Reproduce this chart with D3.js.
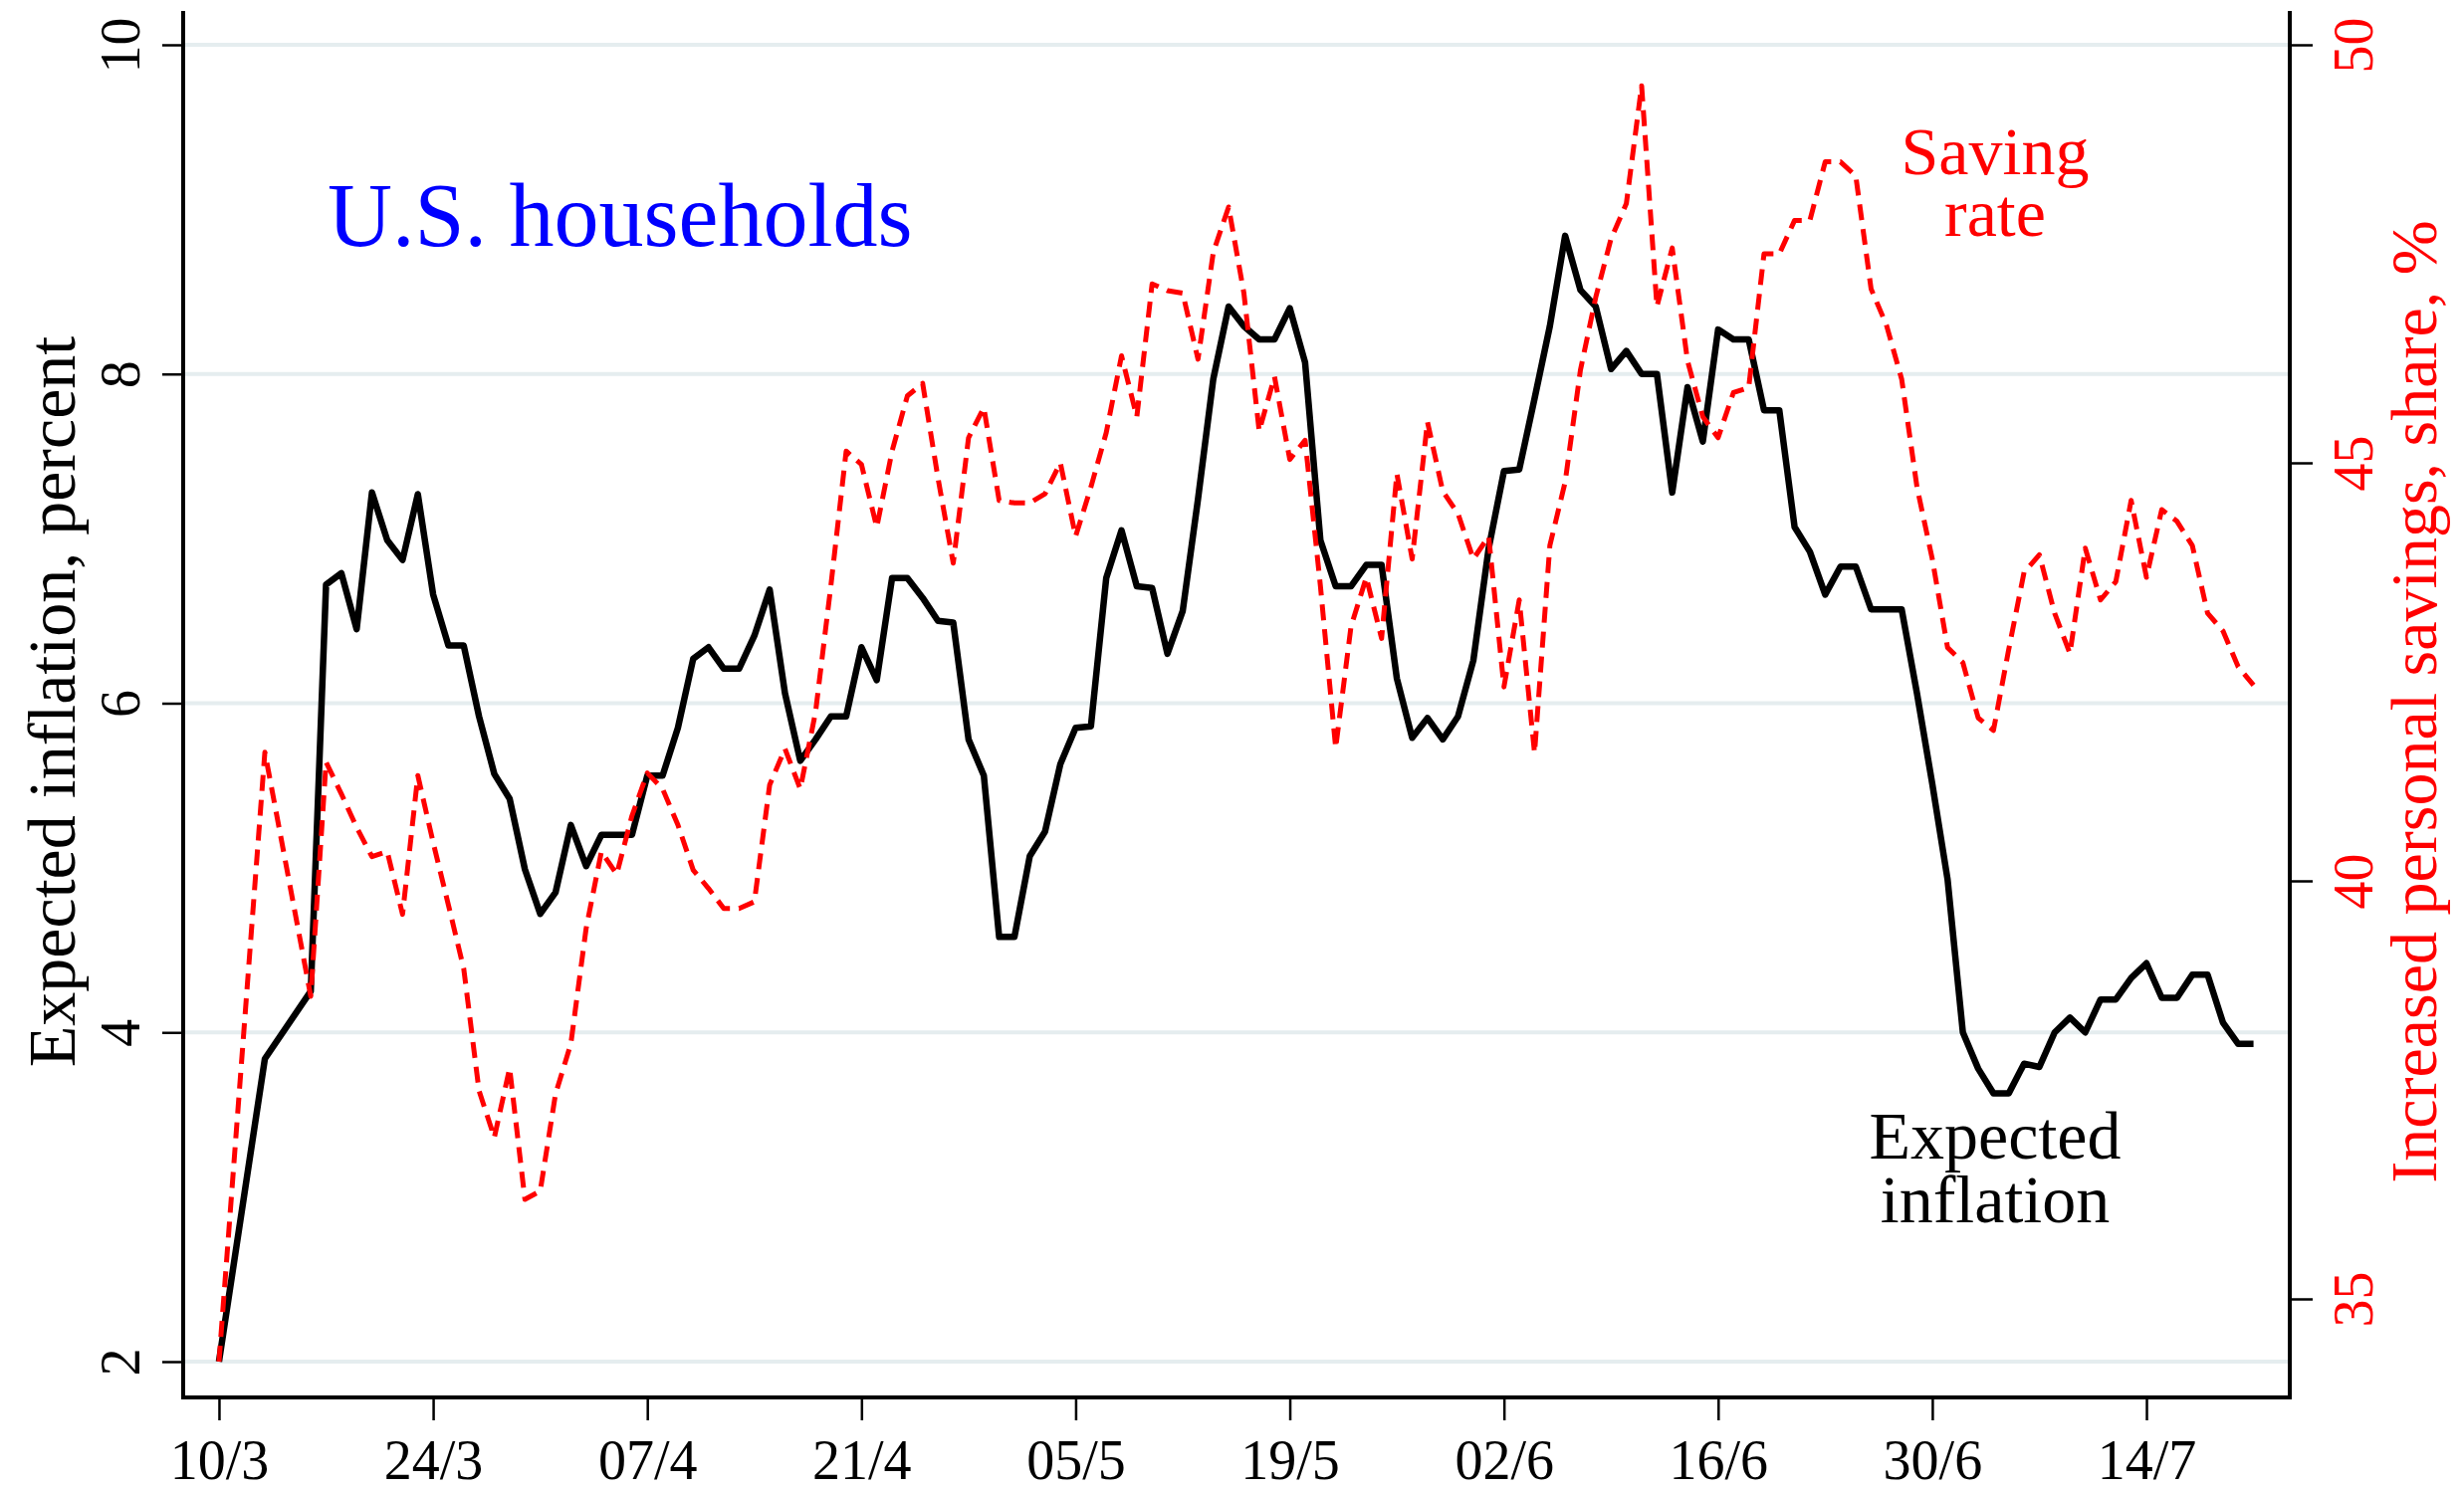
<!DOCTYPE html>
<html>
<head>
<meta charset="utf-8">
<script src="https://cdn.jsdelivr.net/npm/d3@7"></script>
<style>
  body { margin: 0; background: #fff; }
  svg { display: block; font-family: "Liberation Serif", "Times New Roman", serif; }
</style>
</head>
<body>
<svg id="chart"></svg>
<script>
// days since 10 March 2020 (survey waves are sparse at the start)
var days = [0, 3, 6,
  7, 8, 9, 10, 11, 12, 13, 14, 15, 16,
  17, 18, 19, 20, 21, 22, 23, 24, 25, 26,
  27, 28, 29, 30, 31, 32, 33, 34, 35, 36,
  37, 38, 39, 40, 41, 42, 43, 44, 45, 46,
  47, 48, 49, 50, 51, 52, 53, 54, 55, 56,
  57, 58, 59, 60, 61, 62, 63, 64, 65, 66,
  67, 68, 69, 70, 71, 72, 73, 74, 75, 76,
  77, 78, 79, 80, 81, 82, 83, 84, 85, 86,
  87, 88, 89, 90, 91, 92, 93, 94, 95, 96,
  97, 98, 99, 100, 101, 102, 103, 104, 105, 106,
  107, 108, 109, 110, 111, 112, 113, 114, 115, 116,
  117, 118, 119, 120, 121, 122, 123, 124, 125, 126,
  127, 128, 129, 130, 131, 132, 133];

// expected inflation, percent (left axis)
var inflation = [2.0, 3.84, 4.25,
  6.72, 6.79, 6.45, 7.28, 6.99, 6.87, 7.27, 6.66, 6.35, 6.35,
  5.92, 5.57, 5.42, 4.99, 4.72, 4.85, 5.26, 5.01, 5.2, 5.2,
  5.2, 5.56, 5.56, 5.85, 6.27, 6.34, 6.21, 6.21, 6.41, 6.69,
  6.06, 5.65, 5.78, 5.92, 5.92, 6.34, 6.14, 6.76, 6.76, 6.64,
  6.5, 6.49, 5.78, 5.56, 4.58, 4.58, 5.07, 5.22, 5.63, 5.85,
  5.86, 6.76, 7.05, 6.71, 6.7, 6.3, 6.56, 7.24, 7.97, 8.41,
  8.29, 8.21, 8.21, 8.4, 8.07, 6.99, 6.71, 6.71, 6.84, 6.84,
  6.15, 5.79, 5.91, 5.78, 5.92, 6.26, 6.94, 7.41, 7.42, 7.85,
  8.29, 8.84, 8.51, 8.41, 8.03, 8.14, 8.0, 8.0, 7.28, 7.92,
  7.59, 8.27, 8.21, 8.21, 7.78, 7.78, 7.07, 6.92, 6.66, 6.83,
  6.83, 6.57, 6.57, 6.57, 6.06, 5.51, 4.93, 4.0, 3.78, 3.63,
  3.63, 3.81, 3.79, 4.0, 4.09, 4.0, 4.2, 4.2, 4.33, 4.42,
  4.21, 4.21, 4.35, 4.35, 4.06, 3.93, 3.93];

// increased personal savings, share % (right axis)
var saving = [34.25, 41.54, 38.62,
  41.42, 41.04, 40.64, 40.29, 40.35, 39.6, 41.26, 40.46, 39.71, 38.95,
  37.49, 36.93, 37.76, 36.19, 36.29, 37.45, 38.05, 39.43, 40.35, 40.08,
  40.78, 41.29, 41.1, 40.67, 40.13, 39.91, 39.67, 39.67, 39.75, 41.15,
  41.58, 41.1, 42.02, 43.53, 45.14, 44.98, 44.23, 45.14, 45.8, 45.95,
  44.82, 43.8, 45.3, 45.66, 44.55, 44.52, 44.52, 44.63, 45.0, 44.12,
  44.71, 45.36, 46.28, 45.55, 47.14, 47.06, 47.03, 46.24, 47.52, 48.06,
  47.03, 45.38, 46.03, 45.04, 45.27, 43.53, 41.59, 43.04, 43.63, 42.9,
  44.87, 43.85, 45.49, 44.66, 44.39, 43.85, 44.12, 42.32, 43.36, 41.53,
  44.01, 44.77, 46.11, 46.98, 47.68, 48.1, 49.51, 46.87, 47.57, 46.22,
  45.55, 45.3, 45.84, 45.9, 47.5, 47.5, 47.9, 47.9, 48.6, 48.6,
  48.43, 47.08, 46.65, 46.0, 44.71, 43.85, 42.79, 42.61, 41.95, 41.8,
  42.77, 43.69, 43.9, 43.2, 42.72, 43.98, 43.36, 43.58, 44.55, 43.63,
  44.44, 44.3, 44.01, 43.2, 42.99, 42.56, 42.34];

var xTickDays = [0, 14, 28, 42, 56, 70, 84, 98, 112, 126];
var xTickLabels = ["10/3", "24/3", "07/4", "21/4", "05/5", "19/5", "02/6", "16/6", "30/6", "14/7"];
var leftTicks = [2, 4, 6, 8, 10];
var rightTicks = [35, 40, 45, 50];

var svgWidth = 2475, svgHeight = 1498;
var plotLeft = 184, plotRight = 2300, plotTop = 45, plotBottom = 1368, axisY = 1404;
var serif = '"Liberation Serif", "Times New Roman", serif';

var svg = d3.select('#chart')
    .attr('width', svgWidth)
    .attr('height', svgHeight);

svg.append('rect')
    .attr('width', svgWidth)
    .attr('height', svgHeight)
    .attr('fill', '#fff');

var x = d3.scaleLinear()
    .domain([-2.34, 135.37])
    .range([plotLeft, plotRight]);

var yL = d3.scaleLinear()
    .domain([2, 10])
    .range([plotBottom, plotTop]);

var yR = d3.scaleLinear()
    .domain([34.25, 50])
    .range([plotBottom, plotTop]);

// gridlines on the left-axis ticks
svg.append('g')
    .selectAll('line')
    .data(leftTicks)
    .enter()
    .append('line')
    .attr('x1', plotLeft)
    .attr('x2', plotRight)
    .attr('y1', d => yL(d))
    .attr('y2', d => yL(d))
    .attr('stroke', '#e5edef')
    .attr('stroke-width', 4);

// bottom axis
var xAxis = svg.append('g')
    .attr('transform', 'translate(0,' + axisY + ')')
    .call(d3.axisBottom(x)
        .tickValues(xTickDays)
        .tickFormat((d, i) => xTickLabels[i])
        .tickSize(23)
        .tickSizeOuter(0));
xAxis.select('.domain').remove();
xAxis.selectAll('.tick line').attr('stroke', '#000').attr('stroke-width', 2.5);
xAxis.selectAll('.tick text')
    .attr('y', 82)
    .attr('dy', null)
    .attr('fill', '#000')
    .style('font-family', serif)
    .style('font-size', '56px');

// left axis
var yAxisL = svg.append('g')
    .attr('transform', 'translate(' + plotLeft + ',0)')
    .call(d3.axisLeft(yL)
        .tickValues(leftTicks)
        .tickSize(21)
        .tickSizeOuter(0));
yAxisL.select('.domain').remove();
yAxisL.selectAll('.tick line').attr('stroke', '#000').attr('stroke-width', 2.5);
yAxisL.selectAll('.tick text')
    .attr('transform', 'rotate(-90)')
    .attr('x', 0)
    .attr('y', -44)
    .attr('dy', null)
    .attr('text-anchor', 'middle')
    .attr('fill', '#000')
    .style('font-family', serif)
    .style('font-size', '56px');

// right axis
var yAxisR = svg.append('g')
    .attr('transform', 'translate(' + plotRight + ',0)')
    .call(d3.axisRight(yR)
        .tickValues(rightTicks)
        .tickSize(23)
        .tickSizeOuter(0));
yAxisR.select('.domain').remove();
yAxisR.selectAll('.tick line').attr('stroke', '#000').attr('stroke-width', 2.5);
yAxisR.selectAll('.tick text')
    .attr('transform', 'rotate(-90)')
    .attr('x', 0)
    .attr('y', 83)
    .attr('dy', null)
    .attr('text-anchor', 'middle')
    .attr('fill', '#ff0000')
    .style('font-family', serif)
    .style('font-size', '56px');

// frame lines (left, bottom, right)
svg.append('path')
    .attr('d', 'M' + plotLeft + ',11V' + axisY + 'H' + plotRight + 'V11')
    .attr('fill', 'none')
    .attr('stroke', '#000')
    .attr('stroke-width', 4);

var inflLine = d3.line()
    .x((d, i) => x(days[i]))
    .y(d => yL(d));

var saveLine = d3.line()
    .x((d, i) => x(days[i]))
    .y(d => yR(d));

svg.append('path')
    .datum(inflation)
    .attr('fill', 'none')
    .attr('stroke', '#000')
    .attr('stroke-width', 6.5)
    .attr('stroke-linejoin', 'round')
    .attr('d', inflLine);

svg.append('path')
    .datum(saving)
    .attr('fill', 'none')
    .attr('stroke', '#ff0000')
    .attr('stroke-width', 5)
    .attr('stroke-dasharray', '16,9')
    .attr('stroke-linejoin', 'round')
    .attr('d', saveLine);

// axis titles
svg.append('text')
    .attr('transform', 'translate(75,705) rotate(-90)')
    .attr('text-anchor', 'middle')
    .attr('fill', '#000')
    .style('font-size', '68px')
    .text('Expected inflation, percent');

svg.append('text')
    .attr('transform', 'translate(2447,705) rotate(-90)')
    .attr('text-anchor', 'middle')
    .attr('fill', '#ff0000')
    .style('font-size', '66px')
    .text('Increased personal savings, share, %');

// annotations
svg.append('text')
    .attr('x', 329)
    .attr('y', 247)
    .attr('fill', '#0000ff')
    .style('font-size', '90px')
    .text('U.S. households');

var saveLabel = [['Saving', 175], ['rate', 237]];
svg.append('g').selectAll('text')
    .data(saveLabel)
    .enter()
    .append('text')
    .attr('x', 2004)
    .attr('y', d => d[1])
    .attr('text-anchor', 'middle')
    .attr('fill', '#ff0000')
    .style('font-size', '68px')
    .text(d => d[0]);

var inflLabel = [['Expected', 1164], ['inflation', 1228]];
svg.append('g').selectAll('text')
    .data(inflLabel)
    .enter()
    .append('text')
    .attr('x', 2004)
    .attr('y', d => d[1])
    .attr('text-anchor', 'middle')
    .attr('fill', '#000')
    .style('font-size', '68px')
    .text(d => d[0]);
</script>
</body>
</html>
